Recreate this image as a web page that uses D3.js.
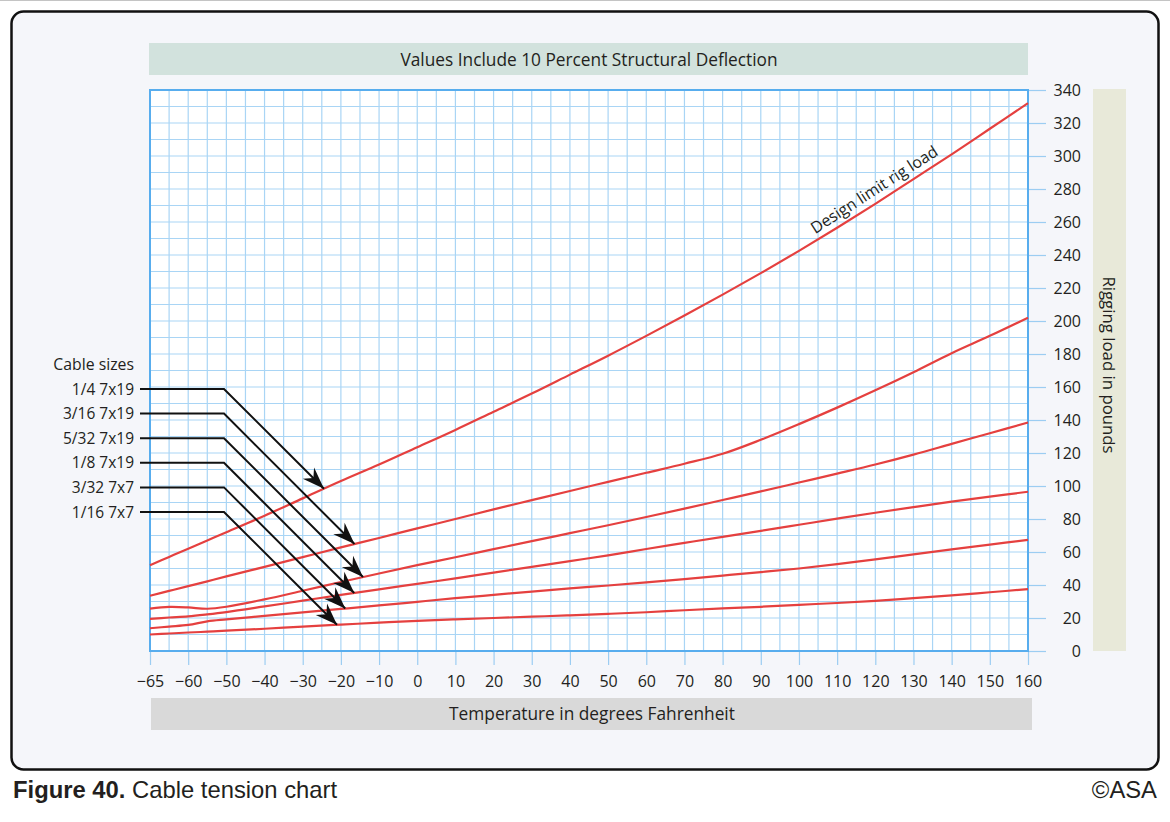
<!DOCTYPE html>
<html>
<head>
<meta charset="utf-8">
<script src="https://cdn.jsdelivr.net/npm/d3@7"></script>
<style>
  body { margin: 0; background: #fff; }
  svg text { font-family: "Open Sans", "Noto Sans", sans-serif; fill: #231f20; }
</style>
</head>
<body>
<div id="chart"></div>
<script>
// Temperatures (deg F) at which the curves were read
var temps      = [-65, -62.5, -60, -55, -50, -40, -30, -20, -10, 0, 10, 20, 30, 40, 50, 60, 70, 80, 90, 100, 110, 120, 130, 140, 150, 160];

// Rigging load (lb) per cable size
var load_1_4   = [52, 57, 62, 67, 72, 82, 92.5, 103, 113, 123.5, 134, 145, 156, 167.5, 179, 191, 203.3, 216, 229, 242.5, 256.5, 271, 286, 301, 316.5, 332];
var load_3_16  = [33.5, 36.4, 39.3, 42.2, 45.2, 51, 56.9, 62.8, 68.5, 74.3, 80, 85.8, 91.4, 97, 102.5, 108, 113.5, 119.5, 128, 137.5, 147.5, 158, 169, 180.5, 191, 202];
var load_5_32  = [25.7, 26.7, 26.4, 25.6, 26.8, 31.3, 36.5, 41.8, 47, 52, 56.8, 61.7, 66.6, 71.4, 76.2, 81.2, 86.3, 91.5, 96.7, 102.1, 107.5, 113, 119, 125.5, 132, 138.5];
var load_1_8   = [19.5, 20.3, 21, 22.2, 23.6, 27, 30.5, 34, 37.4, 40.7, 44, 47.5, 51, 54.5, 58, 61.8, 65.5, 69.2, 72.8, 76.5, 80.2, 83.8, 87.2, 90.5, 93.6, 96.5];
var load_3_32  = [13.8, 14.8, 15.8, 18, 19.2, 21.3, 23.4, 25.5, 27.6, 29.8, 32, 34, 36, 37.9, 39.7, 41.6, 43.6, 45.7, 47.8, 50, 52.6, 55.5, 58.6, 61.6, 64.5, 67.3];
var load_1_16  = [10, 10.6, 11.2, 11.7, 12.3, 13.5, 14.8, 16, 17.2, 18.3, 19.2, 20, 20.8, 21.6, 22.5, 23.5, 24.7, 25.8, 26.8, 28, 29.1, 30.4, 32, 33.7, 35.6, 37.5];

var cable_labels = ['1/4 7x19', '3/16 7x19', '5/32 7x19', '1/8 7x19', '3/32 7x7', '1/16 7x7'];
var cable_series = [load_1_4, load_3_16, load_5_32, load_1_8, load_3_32, load_1_16];

var x_tick_values = [-65, -60, -50, -40, -30, -20, -10, 0, 10, 20, 30, 40, 50, 60, 70, 80, 90, 100, 110, 120, 130, 140, 150, 160];
var y_tick_values = [0, 20, 40, 60, 80, 100, 120, 140, 160, 180, 200, 220, 240, 260, 280, 300, 320, 340];
var x_grid_values = [-65, -62.5].concat(d3.range(-60, 161, 5));
var y_grid_values = d3.range(0, 341, 10);

var chart_width  = 1170;
var chart_height = 822;

var svg = d3.select('#chart')
    .append('svg')
    .attr('width', chart_width)
    .attr('height', chart_height);

// Fundo e moldura
svg.append('line')
    .attr('x1', 0).attr('x2', chart_width)
    .attr('y1', 0.5).attr('y2', 0.5)
    .attr('stroke', '#c4c4c4');

svg.append('rect')
    .attr('x', 11.5).attr('y', 11.5)
    .attr('width', 1147).attr('height', 758)
    .attr('rx', 12)
    .attr('fill', '#f5f6fa')
    .attr('stroke', '#111')
    .attr('stroke-width', 2.5);

// Escalas (the -65..-60 step takes one 10-degree width)
var x_scale = d3.scaleLinear()
    .domain([-65, -60, 160])
    .range([150, 188.2, 1028]);

var y_scale = d3.scaleLinear()
    .domain([0, 340])
    .range([651, 90]);

// Faixas
svg.append('rect')
    .attr('x', 149).attr('y', 43)
    .attr('width', 879).attr('height', 32)
    .attr('fill', '#d2e2dd');
svg.append('text')
    .attr('x', 589).attr('y', 66)
    .attr('text-anchor', 'middle')
    .attr('font-size', 17.3)
    .text('Values Include 10 Percent Structural Deflection');

svg.append('rect')
    .attr('x', 151).attr('y', 698)
    .attr('width', 881).attr('height', 32)
    .attr('fill', '#d9d9d9');
svg.append('text')
    .attr('x', 592).attr('y', 720)
    .attr('text-anchor', 'middle')
    .attr('font-size', 17.3)
    .text('Temperature in degrees Fahrenheit');

svg.append('rect')
    .attr('x', 1093).attr('y', 89)
    .attr('width', 33).attr('height', 562)
    .attr('fill', '#e8e9d9');
svg.append('text')
    .attr('transform', 'translate(1103,365) rotate(90)')
    .attr('text-anchor', 'middle')
    .attr('font-size', 16.8)
    .text('Rigging load in pounds');

// Grade
svg.append('rect')
    .attr('x', x_scale(-65)).attr('y', y_scale(340))
    .attr('width', x_scale(160) - x_scale(-65))
    .attr('height', y_scale(0) - y_scale(340))
    .attr('fill', '#fff');

svg.append('g')
    .selectAll('line')
    .data(x_grid_values)
    .enter()
    .append('line')
    .attr('x1', function(d) { return x_scale(d); })
    .attr('x2', function(d) { return x_scale(d); })
    .attr('y1', y_scale(0))
    .attr('y2', y_scale(340))
    .attr('stroke', '#a9d5f5')
    .attr('stroke-width', 1.2);

svg.append('g')
    .selectAll('line')
    .data(y_grid_values)
    .enter()
    .append('line')
    .attr('x1', x_scale(-65))
    .attr('x2', x_scale(160))
    .attr('y1', function(d) { return y_scale(d); })
    .attr('y2', function(d) { return y_scale(d); })
    .attr('stroke', '#a9d5f5')
    .attr('stroke-width', 1.2);

// Eixos
var x_axis = d3.axisBottom(x_scale)
    .tickValues(x_tick_values)
    .tickSize(14)
    .tickPadding(11);
var gx = svg.append('g')
    .attr('transform', 'translate(0,' + y_scale(0) + ')')
    .call(x_axis);
gx.select('.domain').remove();
gx.selectAll('line').attr('stroke', '#9ccdf2').attr('stroke-width', 1.2);
gx.selectAll('text').attr('font-size', 16).attr('fill', '#231f20');

var y_axis = d3.axisRight(y_scale)
    .tickValues(y_tick_values)
    .tickSize(18);
var gy = svg.append('g')
    .attr('transform', 'translate(' + x_scale(160) + ',0)')
    .call(y_axis);
gy.select('.domain').remove();
gy.selectAll('line').attr('stroke', '#9ccdf2').attr('stroke-width', 1.2);
gy.selectAll('text')
    .attr('font-size', 16)
    .attr('fill', '#231f20')
    .attr('text-anchor', 'end')
    .attr('x', 53);

svg.append('rect')
    .attr('x', x_scale(-65)).attr('y', y_scale(340))
    .attr('width', x_scale(160) - x_scale(-65))
    .attr('height', y_scale(0) - y_scale(340))
    .attr('fill', 'none')
    .attr('stroke', '#58adee')
    .attr('stroke-width', 2);

// Curvas
var line = d3.line()
    .x(function(d) { return x_scale(d[0]); })
    .y(function(d) { return y_scale(d[1]); })
    .curve(d3.curveCatmullRom.alpha(0.5));

svg.append('g')
    .selectAll('path')
    .data(cable_series)
    .enter()
    .append('path')
    .attr('d', function(s) { return line(d3.zip(temps, s)); })
    .attr('fill', 'none')
    .attr('stroke', '#e5403f')
    .attr('stroke-width', 2.2);

// Rotulo da curva de limite
var top_curve = d3.scaleLinear().domain(temps).range(load_1_4);
var lbl_t = 121.5;
var p0 = [x_scale(lbl_t - 3), y_scale(top_curve(lbl_t - 3))];
var p1 = [x_scale(lbl_t + 3), y_scale(top_curve(lbl_t + 3))];
var lbl_angle = Math.atan2(p1[1] - p0[1], p1[0] - p0[0]) * 180 / Math.PI;
svg.append('text')
    .attr('transform', 'translate(' + x_scale(lbl_t) + ',' + y_scale(top_curve(lbl_t)) + ') rotate(' + lbl_angle + ')')
    .attr('y', -7)
    .attr('text-anchor', 'middle')
    .attr('font-size', 16)
    .text('Design limit rig load');

// Legenda de cabos com setas
svg.append('defs')
    .append('marker')
    .attr('id', 'arrow')
    .attr('viewBox', '-24 -10 26 20')
    .attr('refX', 0).attr('refY', 0)
    .attr('markerUnits', 'userSpaceOnUse')
    .attr('markerWidth', 26).attr('markerHeight', 20)
    .attr('orient', 'auto')
    .append('path')
    .attr('d', 'M0,0 L-22,-8 L-15,0 L-22,8 Z')
    .attr('fill', '#111');

svg.append('text')
    .attr('x', 134).attr('y', 370)
    .attr('text-anchor', 'end')
    .attr('font-size', 15.8)
    .text('Cable sizes');

var label_y0 = 389, label_dy = 24.6, line_x0 = 140, elbow_x = 224;

cable_labels.forEach(function(lbl, i) {
    var ly = label_y0 + i * label_dy;
    var curve = d3.scaleLinear().domain(temps).range(cable_series[i]);
    // walk down the 45 degree diagonal until it meets the curve
    var s = 0, tip = null;
    for (s = 0; s < 400; s += 0.25) {
        var px = elbow_x + s, py = ly + s;
        var cy = y_scale(curve(x_scale.invert(px)));
        if (py >= cy) { tip = [px, cy]; break; }
    }
    svg.append('text')
        .attr('x', 134).attr('y', ly + 5.5)
        .attr('text-anchor', 'end')
        .attr('font-size', 15.5)
        .text(lbl);
    svg.append('path')
        .attr('d', 'M' + line_x0 + ',' + ly + 'H' + elbow_x + 'L' + tip[0] + ',' + tip[1])
        .attr('fill', 'none')
        .attr('stroke', '#111')
        .attr('stroke-width', 2)
        .attr('marker-end', 'url(#arrow)');
});

// Legenda
svg.append('text')
    .attr('x', 13).attr('y', 798)
    .attr('font-size', 23.8)
    .style('font-family', '"Liberation Sans", Arial, sans-serif')
    .html('<tspan font-weight="bold">Figure 40.</tspan> Cable tension chart');
svg.append('text')
    .attr('x', 1157).attr('y', 798)
    .attr('text-anchor', 'end')
    .attr('font-size', 23.8)
    .style('font-family', '"Liberation Sans", Arial, sans-serif')
    .text('\u00a9ASA');
</script>
</body>
</html>
